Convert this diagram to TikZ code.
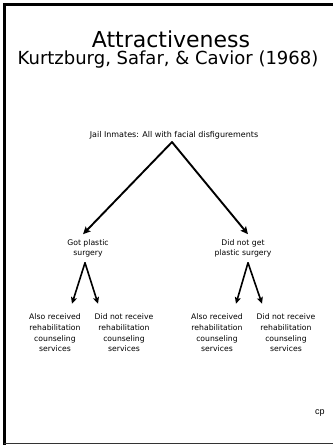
\documentclass[tikz,border=0pt]{standalone}
\usepackage{fontspec}
\setmainfont{DejaVu Sans}
\newfontfamily\cpfont{Liberation Sans}
\usetikzlibrary{arrows.meta,calc}
\tikzset{
  small/.style={font=\fontsize{7.7}{10.7}\selectfont, align=center, inner sep=0pt},
  arr/.style={line width=1.9pt, line cap=round, -{Stealth[length=7.5pt,width=7pt,inset=1.5pt]}},
  arrs/.style={line width=1.6pt, line cap=round, -{Stealth[length=6.5pt,width=6pt,inset=1.2pt]}},
}
\begin{document}
\begin{tikzpicture}[x=1pt,y=-1pt]
\useasboundingbox (0,0) rectangle (333,445);
% frame
\draw[line width=3pt] (4.2,445) -- (4.2,4.2) -- (333,4.2);
\draw[line width=0.9pt, black!80] (4,443.3) -- (333,443.3);
% titles
\node[anchor=base, font=\fontsize{22}{24}\selectfont, inner sep=0pt, text depth=0pt] (title) at (171,47) {Attractiveness};
\node[anchor=base, font=\fontsize{18}{20}\selectfont, inner sep=0pt, text height=13pt] (sub) at (168,64) {Kurtzburg, Safar, \& Cavior (1968)};
% tree
\node[small, font=\fontsize{8}{10.7}\selectfont] (root) at (174,135) {Jail Inmates: All with facial disfigurements};
\node[small] (a) at (88,248.5) {Got plastic\\surgery};
\node[small] (b) at (243,248.5) {Did not get\\plastic surgery};
\node[small] (a1) at (55,333) {Also received\\rehabilitation\\counseling\\services};
\node[small] (a2) at (124,333) {Did not receive\\rehabilitation\\counseling\\services};
\node[small] (b1) at (217,333) {Also received\\rehabilitation\\counseling\\services};
\node[small] (b2) at (286,333) {Did not receive\\rehabilitation\\counseling\\services};
\coordinate (r) at ($(root.south)+(-2,3)$);
\draw[arr] (r) -- ($(a.north)+(-5,-5)$);
\draw[arr] (r) -- ($(b.north)+(5,-5)$);
\coordinate (ao) at ($(a.south)+(-3,5)$);
\coordinate (bo) at ($(b.south)+(5,5)$);
\draw[arrs] (ao) -- ($(a1.north)+(17,-10)$);
\draw[arrs] (ao) -- ($(a2.north)+(-26,-10)$);
\draw[arrs] (bo) -- ($(b1.north)+(19,-10)$);
\draw[arrs] (bo) -- ($(b2.north)+(-24,-10)$);
\node[font=\cpfont\fontsize{9}{10}\selectfont, inner sep=0pt] (cp) at (320,413) {cp};
\end{tikzpicture}
\end{document}
